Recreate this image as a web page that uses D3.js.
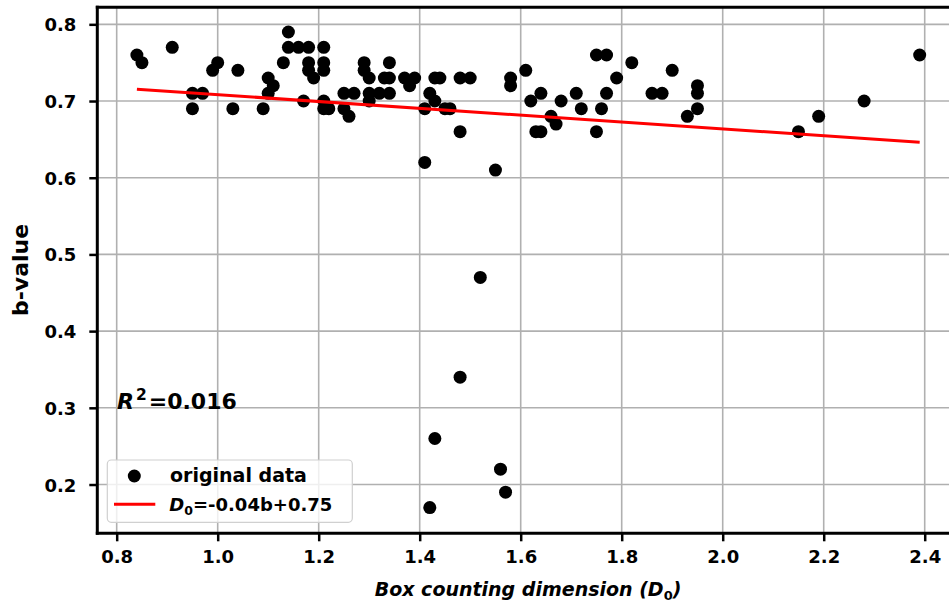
<!DOCTYPE html>
<html>
<head>
<meta charset="utf-8">
<script src="https://cdn.jsdelivr.net/npm/d3@7"></script>
<style>
  html, body { margin: 0; padding: 0; background: #fff; }
  svg { display: block; font-family: "DejaVu Sans", sans-serif; }
</style>
</head>
<body>
<svg id="chart" width="949" height="605"></svg>
<script>
// ---- data ----
const boxDim = [0.84,0.85,0.91,0.95,0.97,0.95,0.99,1.00,1.04,1.03,1.09,1.10,1.11,1.10,1.13,1.14,1.14,1.16,1.18,1.21,1.18,1.18,1.19,1.21,1.21,1.17,1.21,1.21,1.22,1.25,1.25,1.26,1.27,1.29,1.29,1.30,1.30,1.30,1.32,1.33,1.34,1.34,1.34,1.37,1.38,1.39,1.42,1.43,1.41,1.43,1.44,1.45,1.46,1.48,1.50,1.48,1.41,1.55,1.58,1.58,1.61,1.62,1.64,1.63,1.64,1.66,1.67,1.68,1.71,1.72,1.75,1.77,1.75,1.76,1.77,1.79,1.82,1.86,1.88,1.90,1.93,1.95,1.95,1.95,2.15,2.19,2.28,2.39,1.52,1.48,1.43,1.56,1.57,1.42];
const bValue = [0.76,0.75,0.77,0.71,0.71,0.69,0.74,0.75,0.74,0.69,0.69,0.73,0.72,0.71,0.75,0.79,0.77,0.77,0.77,0.77,0.75,0.74,0.73,0.75,0.74,0.70,0.70,0.69,0.69,0.71,0.69,0.68,0.71,0.75,0.74,0.73,0.71,0.70,0.71,0.73,0.73,0.75,0.71,0.73,0.72,0.73,0.71,0.70,0.69,0.73,0.73,0.69,0.69,0.73,0.73,0.66,0.62,0.61,0.73,0.72,0.74,0.70,0.71,0.66,0.66,0.68,0.67,0.70,0.71,0.69,0.76,0.76,0.66,0.69,0.71,0.73,0.75,0.71,0.71,0.74,0.68,0.72,0.71,0.69,0.66,0.68,0.70,0.76,0.47,0.34,0.26,0.22,0.19,0.17];
const fitSlope = -0.0447;
const fitIntercept = 0.753;
const fitRange = [0.84, 2.39];
const xTicks = [0.8,1.0,1.2,1.4,1.6,1.8,2.0,2.2,2.4];
const yTicks = [0.2,0.3,0.4,0.5,0.6,0.7,0.8];
const rSquared = "0.016";

// ---- layout ----
const svg = d3.select("#chart");
const pL = 97.3, pR = 958.8, pT = 7.3, pB = 533.3;
const x = d3.scaleLinear().domain([0.7616, 2.4675]).range([pL, pR]);
const y = d3.scaleLinear().domain([0.1364, 0.8222]).range([pB, pT]);

svg.append("defs").append("clipPath").attr("id","plotclip")
  .append("rect").attr("x",pL).attr("y",pT).attr("width",pR-pL).attr("height",pB-pT);

// grid
const grid = svg.append("g");
grid.selectAll("line.gx").data(xTicks).join("line").attr("class","gx")
  .attr("x1", d=>x(d)).attr("x2", d=>x(d)).attr("y1", pT).attr("y2", pB)
  .attr("stroke", "#b0b0b0").attr("stroke-width", 1.6);
grid.selectAll("line.gy").data(yTicks).join("line").attr("class","gy")
  .attr("x1", pL).attr("x2", pR).attr("y1", d=>y(d)).attr("y2", d=>y(d))
  .attr("stroke", "#b0b0b0").attr("stroke-width", 1.6);

// points
const plot = svg.append("g").attr("clip-path","url(#plotclip)");
plot.selectAll("circle").data(boxDim.map((d,i)=>[d,bValue[i]])).join("circle")
  .attr("cx", d=>x(d[0])).attr("cy", d=>y(d[1])).attr("r", 6.5).attr("fill", "#000");

// fit line
plot.append("line")
  .attr("x1", x(fitRange[0])).attr("y1", y(fitIntercept + fitSlope*fitRange[0]))
  .attr("x2", x(fitRange[1])).attr("y2", y(fitIntercept + fitSlope*fitRange[1]))
  .attr("stroke", "red").attr("stroke-width", 3);

// axes
const xAxis = d3.axisBottom(x).tickValues(xTicks).tickFormat(d3.format(".1f")).tickSize(8).tickPadding(9);
const yAxis = d3.axisLeft(y).tickValues(yTicks).tickFormat(d3.format(".1f")).tickSize(8).tickPadding(13);
const gx = svg.append("g").attr("transform", `translate(0,${pB})`).call(xAxis);
const gy = svg.append("g").attr("transform", `translate(${pL},0)`).call(yAxis);
[gx, gy].forEach(g => {
  g.select(".domain").remove();
  g.selectAll(".tick line").attr("stroke", "#000").attr("stroke-width", 2.5);
  g.selectAll(".tick text").attr("fill", "#000").attr("font-size", 18).attr("font-weight", "bold")
    .attr("font-family", "DejaVu Sans");
});
gy.selectAll(".tick text").attr("dy", "0.36em");

// spines
svg.append("line").attr("x1", pL).attr("x2", pL).attr("y1", pT-1.5).attr("y2", pB+1.5).attr("stroke","#000").attr("stroke-width",3);
svg.append("line").attr("x1", pL-1.5).attr("x2", pR).attr("y1", pB).attr("y2", pB).attr("stroke","#000").attr("stroke-width",3);
svg.append("line").attr("x1", pL-1.5).attr("x2", pR).attr("y1", pT).attr("y2", pT).attr("stroke","#000").attr("stroke-width",3);
svg.append("line").attr("x1", pR).attr("x2", pR).attr("y1", pT).attr("y2", pB).attr("stroke","#000").attr("stroke-width",3);

// axis labels
const xl = svg.append("text").attr("x", (pL+pR)/2).attr("y", 596).attr("text-anchor","middle")
  .attr("font-size", 19).attr("font-weight","bold").attr("font-style","italic");
xl.append("tspan").text("Box counting dimension (");
xl.append("tspan").text("D");
xl.append("tspan").text("0").attr("font-size", 13).attr("dy", 4).attr("font-style","normal");
xl.append("tspan").text(")").attr("dy", -4);

svg.append("text").attr("transform", "translate(27.5,270) rotate(-90)").attr("text-anchor","middle")
  .attr("font-size", 22).attr("font-weight","bold").text("b-value");

// R^2
const rt = svg.append("text").attr("x", 117).attr("y", 409).attr("font-size", 22).attr("font-weight","bold");
rt.append("tspan").text("R").attr("font-style","italic");
rt.append("tspan").text("2").attr("font-size", 15.5).attr("dy", -9).attr("dx", 2);
rt.append("tspan").text("=" + rSquared).attr("dy", 9).attr("dx", 2);

// legend
const lg = svg.append("g");
lg.append("rect").attr("x", 107.3).attr("y", 460).attr("width", 245).attr("height", 62.3)
  .attr("rx", 4).attr("fill", "#fff").attr("fill-opacity", 0.8).attr("stroke", "#d0d0d0").attr("stroke-width", 1.2);
lg.append("circle").attr("cx", 134.3).attr("cy", 476).attr("r", 6.5).attr("fill", "#000");
lg.append("text").attr("x", 170).attr("y", 482).attr("font-size", 19).attr("font-weight","bold").text("original data");
lg.append("line").attr("x1", 114).attr("x2", 155.3).attr("y1", 504.3).attr("y2", 504.3).attr("stroke","red").attr("stroke-width",3);
const lt = lg.append("text").attr("x", 169.3).attr("y", 510.5).attr("font-size", 18).attr("font-weight","bold");
lt.append("tspan").text("D").attr("font-style","italic");
lt.append("tspan").text("0").attr("font-size", 12.5).attr("dy", 4);
lt.append("tspan").text(`=${fitSlope.toFixed(2)}b+${fitIntercept.toFixed(2)}`).attr("dy", -4);
</script>
</body>
</html>
